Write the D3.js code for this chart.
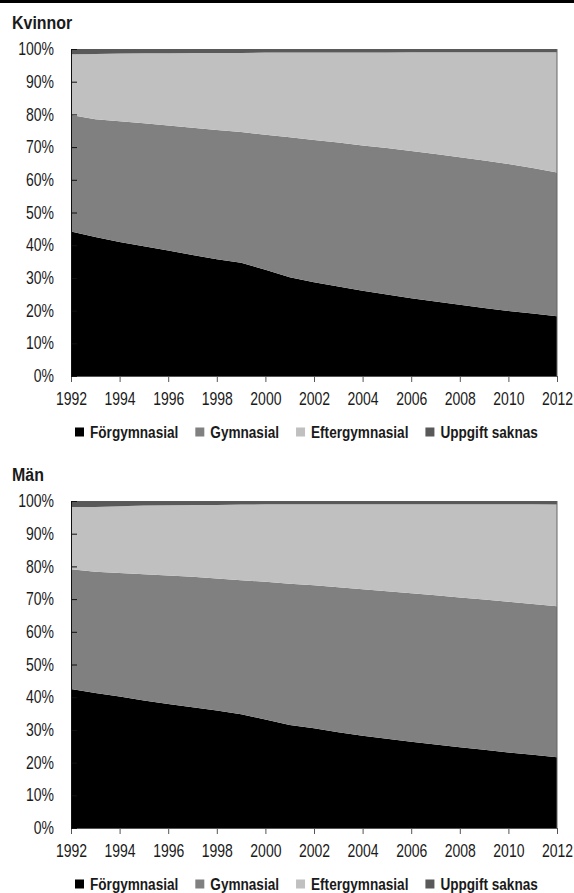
<!DOCTYPE html>
<html>
<head>
<meta charset="utf-8">
<script src="https://cdn.jsdelivr.net/npm/d3@7"></script>
<style>
  body { margin: 0; background: #fff; }
  svg { display: block; }
  text { font-family: "Liberation Sans", Arial, sans-serif; fill: #1a1a1a; }
</style>
</head>
<body>
<svg width="574" height="893"></svg>
<script>
const years = [1992, 1993, 1994, 1995, 1996, 1997, 1998, 1999, 2000, 2001, 2002,
               2003, 2004, 2005, 2006, 2007, 2008, 2009, 2010, 2011, 2012];
const seriesNames = ["Förgymnasial", "Gymnasial", "Eftergymnasial", "Uppgift saknas"];
const seriesColors = ["#000000", "#808080", "#c0c0c0", "#595959"];
const yTicks = [0, 10, 20, 30, 40, 50, 60, 70, 80, 90, 100];
const xTicks = [1992, 1994, 1996, 1998, 2000, 2002, 2004, 2006, 2008, 2010, 2012];

// Kvinnor (percent)
const kvForgymn = [44.2, 42.5, 41.0, 39.7, 38.4, 37.0, 35.7, 34.6, 32.5, 30.2, 28.7,
                   27.4, 26.1, 24.9, 23.8, 22.8, 21.8, 20.8, 19.9, 19.1, 18.3];
const kvGymn    = [35.6, 36.0, 36.9, 37.6, 38.2, 38.9, 39.5, 40.0, 41.3, 42.8, 43.5,
                   44.0, 44.4, 44.8, 45.0, 45.1, 45.1, 45.1, 44.9, 44.5, 43.9];
const kvEfter   = [18.6, 20.0, 20.7, 21.4, 22.1, 22.9, 23.6, 24.2, 25.1, 25.9, 26.7,
                   27.5, 28.4, 29.2, 30.2, 31.1, 32.1, 33.1, 34.2, 35.4, 36.8];
const kvSaknas  = [1.6, 1.5, 1.4, 1.3, 1.3, 1.2, 1.2, 1.2, 1.1, 1.1, 1.1,
                   1.1, 1.1, 1.1, 1.0, 1.0, 1.0, 1.0, 1.0, 1.0, 1.0];

// Män (percent)
const maForgymn = [42.5, 41.3, 40.2, 39.0, 37.9, 36.9, 35.9, 34.8, 33.2, 31.5, 30.5,
                   29.3, 28.2, 27.3, 26.4, 25.5, 24.7, 23.9, 23.1, 22.4, 21.6];
const maGymn    = [36.6, 37.1, 37.8, 38.6, 39.3, 39.9, 40.4, 41.0, 42.1, 43.2, 43.7,
                   44.3, 44.8, 45.1, 45.4, 45.7, 45.8, 46.0, 46.1, 46.1, 46.2];
const maEfter   = [19.1, 19.8, 20.4, 21.0, 21.5, 22.0, 22.5, 23.1, 23.7, 24.3, 24.8,
                   25.4, 26.0, 26.6, 27.2, 27.8, 28.5, 29.1, 29.8, 30.5, 31.1];
const maSaknas  = [1.8, 1.8, 1.6, 1.4, 1.3, 1.2, 1.2, 1.1, 1.0, 1.0, 1.0,
                   1.0, 1.0, 1.0, 1.0, 1.0, 1.0, 1.0, 1.0, 1.0, 1.1];

const plotLeft = 71, plotRight = 557, plotH = 327;
const narrow = 0.8; // no condensed font installed, squeeze text horizontally

const svg = d3.select("svg");

// cropped header strip at the very top
svg.append("rect").attr("x", 0).attr("y", 0).attr("width", 574).attr("height", 3).attr("fill", "#000");

const toRows = function(a, b, c, d) {
  return years.map((yr, i) => ({
    year: yr,
    "Förgymnasial": a[i], "Gymnasial": b[i], "Eftergymnasial": c[i], "Uppgift saknas": d[i]
  }));
};

const panels = [
  { title: "Kvinnor", top: 49,  rows: toRows(kvForgymn, kvGymn, kvEfter, kvSaknas) },
  { title: "Män",     top: 501, rows: toRows(maForgymn, maGymn, maEfter, maSaknas) }
];

const x = d3.scaleLinear().domain([1992, 2012]).range([plotLeft, plotRight]);
const y = d3.scaleLinear().domain([0, 100]).range([plotH, 0]);

const stack = d3.stack().keys(seriesNames);
const area = d3.area()
  .x(d => x(d.data.year))
  .y0(d => y(d[0]))
  .y1(d => y(d[1]));

// squeezed text at (tx, ty)
const narrowText = function(sel, tx, ty, k) {
  return sel.append("text")
    .attr("transform", "translate(" + tx + "," + ty + ") scale(" + (k || narrow) + ",1)");
};

panels.forEach(function(p) {
  const g = svg.append("g").attr("transform", "translate(0," + p.top + ")");

  narrowText(g, 12, -20, 0.84)
    .attr("font-size", 19).attr("font-weight", "bold")
    .text(p.title);

  const layers = stack(p.rows);
  g.selectAll("path.layer")
    .data(layers)
    .enter().append("path")
      .attr("class", "layer")
      .attr("d", area)
      .attr("fill", (d, i) => seriesColors[i]);

  // right edge
  g.append("line")
    .attr("x1", plotRight).attr("x2", plotRight)
    .attr("y1", 0).attr("y2", plotH)
    .attr("stroke", "#666").attr("stroke-width", 1);

  // x axis
  const xAxis = g.append("g")
    .attr("transform", "translate(0," + plotH + ")")
    .call(d3.axisBottom(x).tickValues(xTicks).tickFormat(d3.format("d")).tickSize(6).tickPadding(11));
  xAxis.select(".domain").attr("stroke", "#555");
  xAxis.selectAll(".tick line").attr("stroke", "#555");
  xAxis.selectAll("text")
    .attr("font-size", 17.5).attr("font-family", null).attr("fill", "#1a1a1a")
    .attr("transform", "scale(" + narrow + ",1)");

  // y axis (ticks drawn inward)
  const yAxis = g.append("g")
    .attr("transform", "translate(" + plotLeft + ",0)")
    .call(d3.axisLeft(y).tickValues(yTicks).tickFormat(d => d + "%").tickSize(-6).tickPadding(17));
  yAxis.select(".domain").attr("stroke", "#111").attr("d", "M0.5," + plotH + "V0");
  yAxis.selectAll(".tick line").attr("stroke", "#111");
  yAxis.selectAll("text")
    .attr("font-size", 17.5).attr("font-family", null).attr("fill", "#1a1a1a")
    .attr("x", -17 / narrow)
    .attr("transform", "scale(" + narrow + ",1)");

  // legend
  const leg = g.append("g").attr("transform", "translate(75," + (plotH + 56) + ")");
  let cx = 0;
  seriesNames.forEach(function(name, i) {
    leg.append("rect")
      .attr("x", cx).attr("y", -4.5).attr("width", 9).attr("height", 9)
      .attr("fill", seriesColors[i]);
    const t = narrowText(leg, cx + 15, 6)
      .attr("font-size", 17).attr("font-weight", "bold")
      .text(name);
    cx += 15 + t.node().getComputedTextLength() * narrow + 17;
  });
});
</script>
</body>
</html>
